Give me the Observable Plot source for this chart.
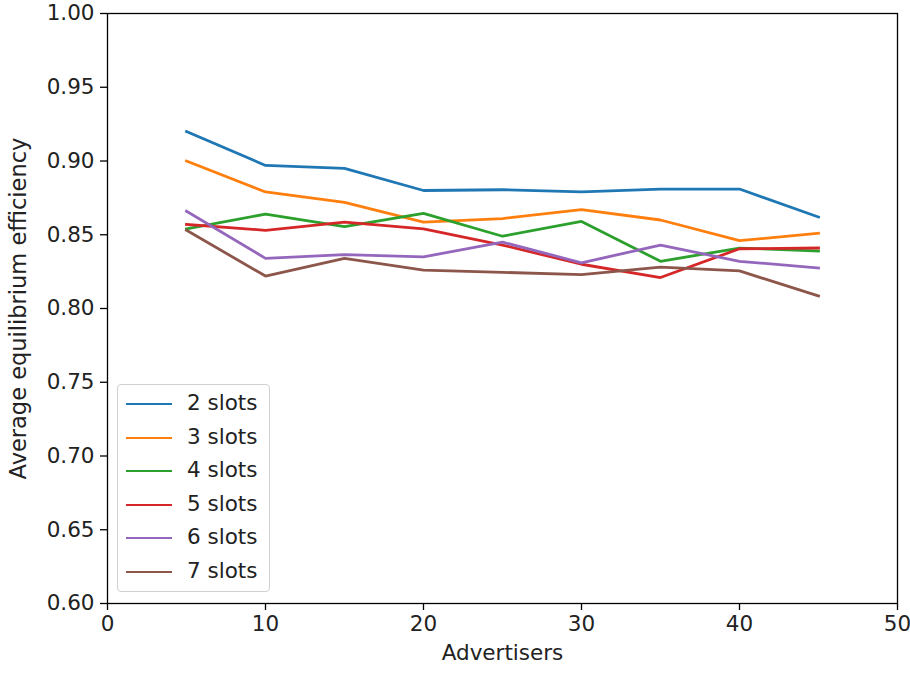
<!DOCTYPE html>
<html><head><meta charset="utf-8">
<script src="https://cdn.jsdelivr.net/npm/d3@7"></script>
<script src="https://cdn.jsdelivr.net/npm/@observablehq/plot@0.6"></script>
<style>
body{margin:0;background:#fff;font-family:"DejaVu Sans",sans-serif;}
#wrap{position:relative;width:910px;height:675px;}
#legend{position:absolute;left:117px;top:384px;width:153px;height:208px;border:1px solid #d0d0d0;border-radius:4px;background:rgba(255,255,255,0.8);box-sizing:border-box;}
.item{position:absolute;left:0;height:20px;font-size:21.5px;color:#222;}
.item .sw{position:absolute;left:8px;top:9px;width:46px;height:0;border-top:2.8px solid;}
.item .lb{position:absolute;left:69px;top:-4px;white-space:nowrap;}
</style></head>
<body><div id="wrap"><div id="legend"></div></div>
<script>
const advertisers = [5, 10, 15, 20, 25, 30, 35, 40, 45];
const seriesNames = ["2 slots", "3 slots", "4 slots", "5 slots", "6 slots", "7 slots"];
const colors = ["#1f77b4", "#ff7f0e", "#2ca02c", "#d62728", "#9467bd", "#8c564b"];
const slots2 = [0.920, 0.897, 0.895, 0.880, 0.8805, 0.879, 0.881, 0.881, 0.862];
const slots3 = [0.900, 0.879, 0.872, 0.8585, 0.861, 0.867, 0.860, 0.846, 0.851];
const slots4 = [0.854, 0.864, 0.8555, 0.8645, 0.849, 0.859, 0.832, 0.841, 0.839];
const slots5 = [0.857, 0.853, 0.8585, 0.854, 0.843, 0.830, 0.821, 0.8405, 0.841];
const slots6 = [0.866, 0.834, 0.8365, 0.835, 0.845, 0.831, 0.843, 0.832, 0.8275];
const slots7 = [0.853, 0.822, 0.834, 0.826, 0.8245, 0.823, 0.828, 0.8255, 0.8085];
const xTicks = [0, 10, 20, 30, 40, 50];
const yTicks = [0.60, 0.65, 0.70, 0.75, 0.80, 0.85, 0.90, 0.95, 1.00];

const allSeries = [slots2, slots3, slots4, slots5, slots6, slots7];
const rows = [];
allSeries.forEach((vals, i) => vals.forEach((v, j) => rows.push({x: advertisers[j], y: v, s: seriesNames[i]})));

const chart = Plot.plot({
  width: 910, height: 675,
  marginLeft: 107, marginRight: 13, marginTop: 13, marginBottom: 72,
  style: {fontFamily: "DejaVu Sans, sans-serif", fontSize: "21.5px", color: "#222", background: "white"},
  x: {domain: [0, 50], label: null},
  y: {domain: [0.6, 1.0], label: null},
  color: {domain: seriesNames, range: colors},
  marks: [
    Plot.line(rows, {x: "x", y: "y", z: "s", stroke: "s", strokeWidth: 2.8, strokeLinejoin: "miter", strokeLinecap: "square"}),
    Plot.frame({stroke: "black", strokeWidth: 1.3}),
    Plot.axisX({ticks: xTicks, tickSize: 7, tickPadding: 5, fontSize: 21.5, stroke: "black", strokeWidth: 1.3, label: null}),
    Plot.axisY({ticks: yTicks, tickSize: 7, tickPadding: 6, fontSize: 21.5, tickFormat: d3.format(".2f"), stroke: "black", strokeWidth: 1.3, label: null}),
    Plot.text(["Advertisers"], {frameAnchor: "bottom", dy: 56, text: d => d, fontSize: 21.5, fill: "#222"}),
    Plot.text(["Average equilibrium efficiency"], {frameAnchor: "left", textAnchor: "middle", dx: -89, rotate: -90, text: d => d, fontSize: 22.5, fill: "#222"})
  ]
});
const wrap = document.getElementById("wrap");
wrap.insertBefore(chart, wrap.firstChild);

const legend = document.getElementById("legend");
seriesNames.forEach((n, i) => {
  const d = document.createElement("div");
  d.className = "item";
  d.style.top = (9 + i * 33.5) + "px";
  d.innerHTML = `<span class="sw" style="border-color:${colors[i]}"></span><span class="lb">${n}</span>`;
  legend.appendChild(d);
});
</script></body></html>
